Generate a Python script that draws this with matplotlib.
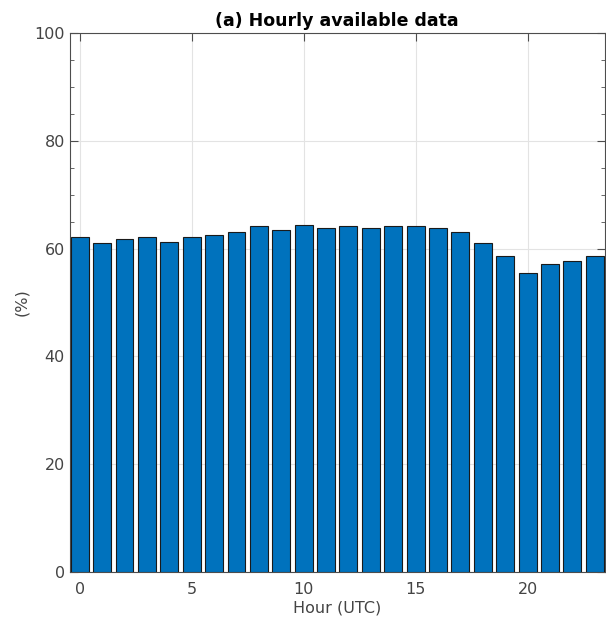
#!/usr/bin/env python3

import matplotlib
import matplotlib.pyplot as plt
from matplotlib.ticker import MultipleLocator
matplotlib.use('Agg')

# Share of hourly data available, per UTC hour of the day.

hours = list(range(24))
available_pct = [62.2, 61.0, 61.7, 62.1, 61.3, 62.2, 62.5, 63.1,
                 64.1, 63.4, 64.4, 63.9, 64.2, 63.9, 64.1, 64.2,
                 63.9, 63.1, 61.1, 58.6, 55.4, 57.1, 57.7, 58.6]
xticks = [0, 5, 10, 15, 20]
yticks = [0, 20, 40, 60, 80, 100]

BAR_COLOR = '#0072BD'
AXIS_GRAY = '#4d4d4d'


def main():
    plt.rcParams['font.family'] = ['DejaVu Sans']
    fig = plt.figure(figsize=(6.06, 6.23), dpi=100)
    ax = fig.add_axes([0.115, 0.082, 0.883, 0.865])

    ax.bar(hours, available_pct, width=0.8, color=BAR_COLOR,
           edgecolor='#1a1a1a', linewidth=0.8, zorder=3)

    ax.set_xlim(-0.45, 23.45)
    ax.set_ylim(0, 100)
    ax.set_xticks(xticks)
    ax.set_yticks(yticks)
    ax.yaxis.set_minor_locator(MultipleLocator(5))

    ax.grid(True, which='major', color='#e3e3e3', linewidth=0.8, zorder=0)
    ax.tick_params(which='both', direction='in', top=True, right=True,
                   colors=AXIS_GRAY, labelsize=11.5, labelcolor='#444444')
    ax.tick_params(which='major', length=6)
    ax.tick_params(which='minor', length=3)
    ax.tick_params(axis='x', pad=7)
    for spine in ax.spines.values():
        spine.set_color(AXIS_GRAY)
        spine.set_linewidth(0.8)

    ax.set_title('(a) Hourly available data', fontsize=12.5, fontweight='bold',
                 pad=5)
    ax.set_xlabel('Hour (UTC)', fontsize=11.5, color='#444444', labelpad=3)
    ax.set_ylabel('(%)', fontsize=11.5, color='#444444', labelpad=4)

    fig.savefig('out.png', dpi=100)


if __name__ == '__main__':
    main()
